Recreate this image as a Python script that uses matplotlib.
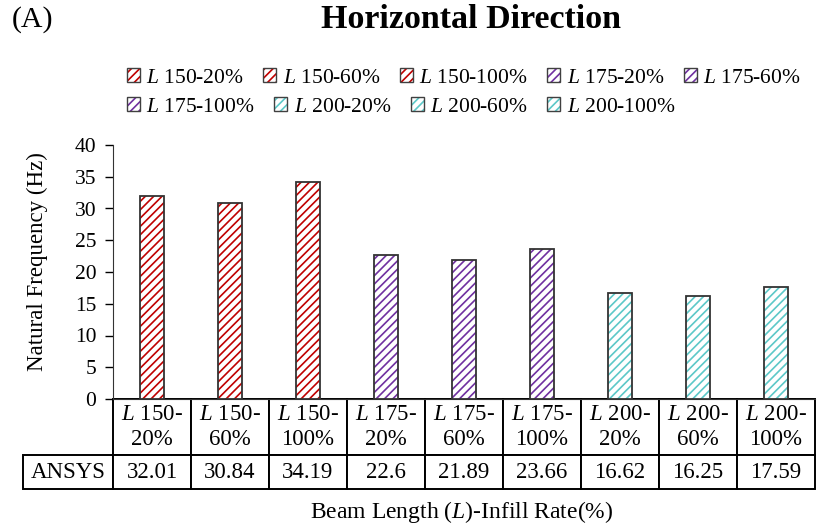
import matplotlib
matplotlib.use('Agg')
import matplotlib.pyplot as plt
from matplotlib.patches import Patch

plt.rcParams['font.family'] = ['Liberation Serif', 'DejaVu Serif']
plt.rcParams['mathtext.fontset'] = 'custom'
plt.rcParams['mathtext.rm'] = 'Liberation Serif'
plt.rcParams['mathtext.it'] = 'Liberation Serif:italic'
plt.rcParams['mathtext.bf'] = 'Liberation Serif:bold'
plt.rcParams['hatch.linewidth'] = 1.2

# data
lengths = ['150', '150', '150', '175', '175', '175', '200', '200', '200']
infill = ['20%', '60%', '100%', '20%', '60%', '100%', '20%', '60%', '100%']
ansys = [32.01, 30.84, 34.19, 22.6, 21.89, 23.66, 16.62, 16.25, 17.59]
ansys_text = ['32.01', '30.84', '34.19', '22.6', '21.89', '23.66', '16.62', '16.25', '17.59']
group_colors = {'150': '#C00000', '175': '#7030A0', '200': '#5CC8C8'}

W, H = 827, 530
fig = plt.figure(figsize=(W / 100, H / 100), dpi=100)

# axes box in pixels: left 113, right 815, top 145, bottom 399
AX_W, AX_H = 815 - 113, 399 - 145
ax = fig.add_axes([113 / W, 1 - 399 / H, AX_W / W, AX_H / H])

x = list(range(len(ansys)))
cols = [group_colors[l] for l in lengths]
ax.bar(x, ansys, width=0.32, color='white', edgecolor=cols, hatch='////', linewidth=0, zorder=2)
ax.bar(x, ansys, width=0.32, fill=False, edgecolor='#333333', linewidth=1.3, zorder=3)

ax.set_xlim(-0.5, len(ansys) - 0.5)
ax.set_ylim(0, 40)
ax.set_yticks(range(0, 41, 5))
ax.tick_params(axis='y', labelsize=15.5, length=6, width=1, direction='out', pad=6)
ax.set_xticks([])
for s in ['top', 'right']:
    ax.spines[s].set_visible(False)
ax.spines['left'].set_color('#333333')
ax.spines['bottom'].set_color('#333333')

# data table under the axis, row label sticks out to the left
header = ['$L$ %s-\n%s' % (l, r) for l, r in zip(lengths, infill)]
tbl = ax.table(cellText=[ansys_text], colLabels=header, rowLabels=['ANSYS'],
               cellLoc='center', rowLoc='center', loc='bottom')
tbl.auto_set_font_size(False)
tbl.set_fontsize(16.5)
for (r, c), cell in tbl.get_celld().items():
    cell.set_linewidth(1.4)
    cell.set_edgecolor('black')
    cell.set_height((56 if r == 0 else 34) / AX_H)
    cell.set_width((84 if c == -1 else 78) / AX_W)

# legend in two flowing rows
def handle(name):
    c = group_colors[name]
    return (Patch(facecolor='white', edgecolor=c, hatch='////', linewidth=0),
            Patch(fill=False, edgecolor='#404040', linewidth=1.0))

labels = ['$L$ %s-%s' % (l, r) for l, r in zip(lengths, infill)]
handles = [handle(l) for l in lengths]
leg_kw = dict(frameon=False, fontsize=15.5, handlelength=0.6, handleheight=0.6,
              handletextpad=0.3, columnspacing=0.9, borderpad=0, borderaxespad=0,
              loc='center left')
leg1 = fig.legend(handles[:5], labels[:5], ncol=5, bbox_to_anchor=(127 / W, 1 - 78 / H), **leg_kw)
leg2 = fig.legend(handles[5:], labels[5:], ncol=4, bbox_to_anchor=(127 / W, 1 - 107 / H), **leg_kw)

fig.text(471 / W, 1 - 20 / H, 'Horizontal Direction', fontsize=24.5, fontweight='bold',
         ha='center', va='center')
fig.text(12 / W, 1 - 20 / H, '(A)', fontsize=21.5, ha='left', va='center')
fig.text(37 / W, 1 - 262 / H, 'Natural Frequency (Hz)', fontsize=16.5, rotation=90,
         ha='center', va='center')
fig.text(462 / W, 1 - 512 / H, 'Beam Length ($L$)-Infill Rate(%)', fontsize=17,
         ha='center', va='center')

fig.savefig('out.png', dpi=100)
